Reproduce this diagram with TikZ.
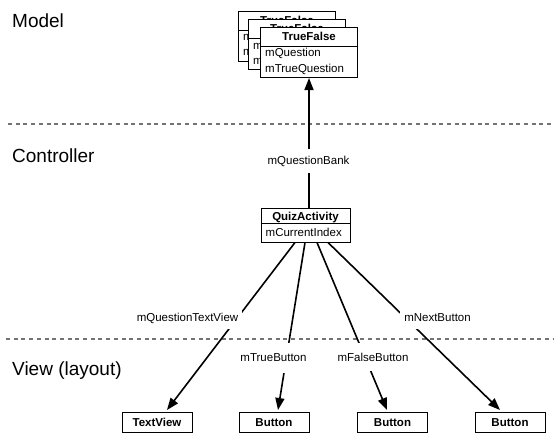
\documentclass[tikz,border=0pt]{standalone}
\usepackage{fontspec}
\setmainfont{Liberation Sans}
\usetikzlibrary{arrows.meta}
\newcommand{\tfbox}[3]{%
  \node[cls] (#1) at (#2,#3) {};
  \draw[line width=1pt] ([yshift=-20pt]#1.north west) -- ([yshift=-20pt]#1.north east);
  \node[small, font=\fontsize{11.5}{13}\selectfont\bfseries, anchor=base] (#1t) at ([yshift=-13.5pt]#1.north) {TrueFalse};
  \node[small, anchor=base west] (#1a) at ([xshift=5pt,yshift=-30pt]#1.north west) {mQuestion};
  \node[small, anchor=base west] (#1b) at ([xshift=5pt,yshift=-45pt]#1.north west) {mTrueQuestion};
}
\begin{document}
\begin{tikzpicture}[x=1pt,y=-1pt,
  sect/.style={font=\fontsize{19}{22}\selectfont, anchor=base west, inner sep=0pt},
  small/.style={font=\fontsize{11.5}{13}\selectfont, inner sep=0pt},
  lbl/.style={font=\fontsize{11.5}{13}\selectfont, fill=white, inner xsep=4pt, inner ysep=0pt, minimum height=22pt},
  cls/.style={draw, line width=1pt, fill=white, minimum width=97pt, minimum height=50pt, anchor=north west, inner sep=0pt},
  obj/.style={draw, line width=1pt, fill=white, minimum width=70pt, minimum height=20pt, font=\fontsize{11.5}{13}\selectfont\bfseries, inner sep=0pt},
  layerline/.style={draw=black!55, dash pattern=on 4pt off 3.7pt, line width=1.2pt},
  link/.style={line width=1.6pt, -{Triangle[length=12pt,width=9pt]}},
  ]
\useasboundingbox (0,0) rectangle (554,436);

% layer separators
\draw[layerline] (8,124) -- (554,124);
\draw[layerline] (6,339) -- (554,339);

% layer titles
\node[sect] (model) at (12,28) {Model};
\node[sect] (ctrl) at (12,162) {Controller};
\node[sect] (view) at (12,375) {View (layout)};

% view objects
\node[obj] (tv) at (157,422.5) {TextView};
\node[obj] (b1) at (274,422.5) {Button};
\node[obj] (b2) at (392.5,422.5) {Button};
\node[obj] (b3) at (510,422.5) {Button};

% controller
\node[draw, line width=1pt, fill=white, minimum width=89pt, minimum height=34pt, inner sep=0pt] (qa) at (305.5,225) {};

% model (stack)
\tfbox{tfc}{238}{11}
\tfbox{tfb}{248}{19}
\tfbox{tf}{260}{27}

% connectors
\draw[link] (tf.south |- qa.north) -- (tf.south);
\draw[link] ([xshift=-10.5pt]qa.south) -- ([xshift=10pt,yshift=2pt]tv.north);
\draw[link] ([xshift=-0.5pt]qa.south) -- ([xshift=4pt,yshift=2pt]b1.north);
\draw[link] ([xshift=11.5pt]qa.south) -- ([xshift=-5.5pt,yshift=2pt]b2.north);
\draw[link] ([xshift=22.5pt]qa.south) -- ([xshift=-10pt,yshift=2pt]b3.north);

% connector labels
\node[lbl, minimum height=24pt] (lqb) at (308.5,161) {mQuestionBank};
\node[lbl] (ltv) at (187.5,318) {mQuestionTextView};
\node[lbl, minimum height=30pt] (ltb) at (273.5,358) {mTrueButton};
\node[lbl, minimum height=28pt] (lfb) at (373,357) {mFalseButton};
\node[lbl] (lnb) at (437.5,318) {mNextButton};

% controller box content
\draw[line width=1pt] ([yshift=-16pt]qa.north west) -- ([yshift=-16pt]qa.north east);
\node[small, font=\fontsize{11.5}{13}\selectfont\bfseries, anchor=base] (qat) at ([yshift=-13pt]qa.north) {QuizActivity};
\node[small, anchor=base west] (qaf) at ([xshift=5pt,yshift=-29pt]qa.north west) {mCurrentIndex};
\end{tikzpicture}
\end{document}
